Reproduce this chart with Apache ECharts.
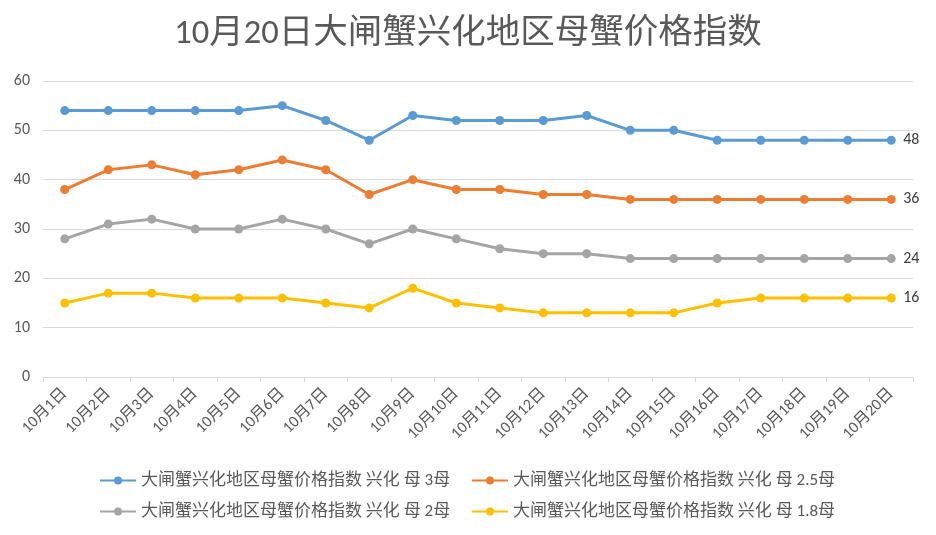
<!DOCTYPE html>
<html><head><meta charset="utf-8">
<script src="https://cdn.jsdelivr.net/npm/echarts@6/dist/echarts.min.js"></script>
<style>html,body{margin:0;padding:0;background:#fff}#c{width:936px;height:535px}</style>
</head><body><div id="c"></div>
<script>
const categories = ['10月1日','10月2日','10月3日','10月4日','10月5日','10月6日','10月7日','10月8日','10月9日','10月10日','10月11日','10月12日','10月13日','10月14日','10月15日','10月16日','10月17日','10月18日','10月19日','10月20日'];
const seriesNames = ['大闸蟹兴化地区母蟹价格指数 兴化 母 3母','大闸蟹兴化地区母蟹价格指数 兴化 母 2.5母','大闸蟹兴化地区母蟹价格指数 兴化 母 2母','大闸蟹兴化地区母蟹价格指数 兴化 母 1.8母'];
const s3 = [54,54,54,54,54,55,52,48,53,52,52,52,53,50,50,48,48,48,48,48];
const s25 = [38,42,43,41,42,44,42,37,40,38,38,37,37,36,36,36,36,36,36,36];
const s2 = [28,31,32,30,30,32,30,27,30,28,26,25,25,24,24,24,24,24,24,24];
const s18 = [15,17,17,16,16,16,15,14,18,15,14,13,13,13,13,15,16,16,16,16];
const yTicks = {min:0, max:60, interval:10};
const colors = ['#5B9BD5','#ED7D31','#A5A5A5','#FFC000'];
const datasets = [s3, s25, s2, s18];
const font = 'Calibri, "Liberation Sans", "Noto Sans CJK SC", sans-serif';
const chart = echarts.init(document.getElementById('c'));
const legendPos = [[99,472],[471,472],[99,503],[471,503]];
chart.setOption({
  animation:false,
  title:{text:'10月20日大闸蟹兴化地区母蟹价格指数', left:'center', top:12,
    textStyle:{fontSize:34.5, fontWeight:'normal', color:'#595959', fontFamily:font}},
  legend: seriesNames.map((n,i)=>({data:[n], left:legendPos[i][0], top:legendPos[i][1],
    padding:0, itemWidth:36, itemHeight:10, itemGap:0,
    textStyle:{fontSize:17, color:'#595959', fontFamily:font}})),
  grid:{left:43, right:23, top:81, bottom:158, containLabel:false},
  xAxis:{type:'category', data:categories, boundaryGap:true,
    axisLine:{lineStyle:{color:'#d9d9d9'}},
    axisTick:{show:true, length:5, lineStyle:{color:'#d9d9d9'}},
    axisLabel:{rotate:45, color:'#595959', fontSize:16, fontFamily:font, margin:14, interval:0}},
  yAxis:{type:'value', min:yTicks.min, max:yTicks.max, interval:yTicks.interval,
    axisLine:{show:false}, axisTick:{show:false},
    splitLine:{lineStyle:{color:'#d9d9d9'}},
    axisLabel:{color:'#595959', fontSize:16, fontFamily:font, margin:13}},
  series: datasets.map((d,i)=>({name:seriesNames[i], type:'line', data:d,
    color:colors[i], symbol:'circle', symbolSize:9,
    lineStyle:{width:3, color:colors[i]}, itemStyle:{color:colors[i]},
    endLabel:{show:true, distance:12, color:'#404040', fontSize:16, fontFamily:font,
      formatter:p=>String(p.value)}}))
});
</script></body></html>
